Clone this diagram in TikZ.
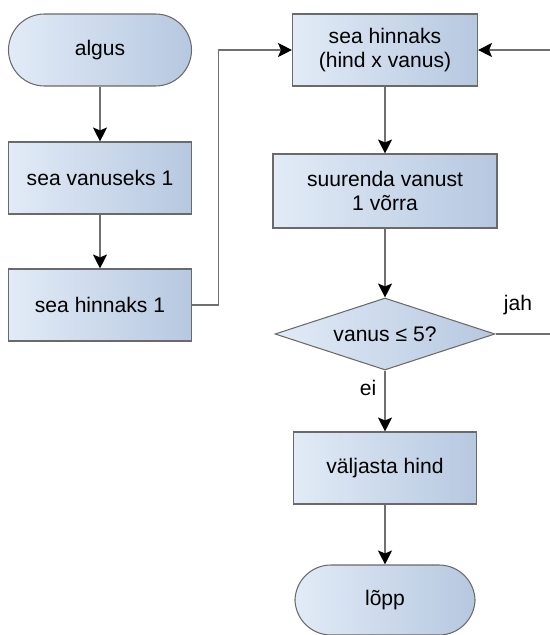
\documentclass[tikz,border=0pt]{standalone}
\usepackage{fontspec}
\setmainfont{Liberation Sans}
\usepackage{xcolor}
\usepackage{tikz}
\usetikzlibrary{calc}
\usetikzlibrary{shapes,arrows,positioning,calc}
\usetikzlibrary{arrows.meta}
\usetikzlibrary{shapes.geometric}
\definecolor{hele}{HTML}{E2EBF7}
\definecolor{tume}{HTML}{B6C8E0}
\definecolor{serv}{HTML}{6A6A6A}
\definecolor{joon}{HTML}{707070}
\begin{document}
\begin{tikzpicture}[transform shape,scale=1,
		kast/.style={draw=serv,line width=0.6pt,left color=hele,right color=tume,align=center,minimum width=3.66cm,minimum height=1.44cm,font=\fontsize{12}{14}\selectfont},
		otsad/.style={kast,rounded corners=0.72cm},
		romb/.style={kast,diamond,aspect=3,inner sep=0pt,minimum width=4.4cm,minimum height=1.44cm},
		nool/.style={draw=joon,line width=0.6pt,-{Stealth[black,length=2.8mm,width=2.8mm,inset=0.6mm]}},
		silt/.style={font=\fontsize{12}{14}\selectfont}]
	\useasboundingbox (0,0) rectangle (11,-12.7);
			\node[otsad] (algus) at (2,-1) {algus};
			\node[kast] (vanus1) at (2,-3.56) {sea vanuseks 1};
			\node[kast] (hind1) at (2,-6.1) {sea hinnaks 1};
			\node[kast,minimum width=3.7cm] (hinnaks) at (7.7,-1) {sea hinnaks\\(hind x vanus)};
			\node[kast,minimum width=4.48cm,minimum height=1.48cm] (suurenda) at (7.7,-3.82) {suurenda vanust\\1 võrra};
			\node[romb] (kontroll) at (7.7,-6.68) {vanus ≤ 5?};
			\node[kast] (valjasta) at (7.7,-9.36) {väljasta hind};
			\node[otsad,minimum width=3.6cm,minimum height=1.4cm] (lopp) at (7.7,-12) {lõpp};
			\coordinate (tagasi) at (11,-1);
			\coordinate (paremale) at (11,-6.68);
			\draw[nool] (algus) -- (vanus1);
			\draw[nool] (vanus1) -- (hind1);
			\draw[nool] (hind1.east) -- ++(0.52,0) |- (hinnaks.west);
			\draw[nool] (hinnaks) -- (suurenda);
			\draw[nool] (suurenda) -- (kontroll);
			\draw[nool] (kontroll) -- (valjasta);
			\draw[nool] (valjasta) -- (lopp);
			\draw[draw=joon,line width=0.6pt] (kontroll.east) -- (paremale);
			\draw[nool] (tagasi) -- (hinnaks.east);
				\node[silt] (jah) at (10.36,-6.1) {jah};
			\node[silt] (ei) at (7.36,-7.76) {ei};
		\end{tikzpicture}
\end{document}
